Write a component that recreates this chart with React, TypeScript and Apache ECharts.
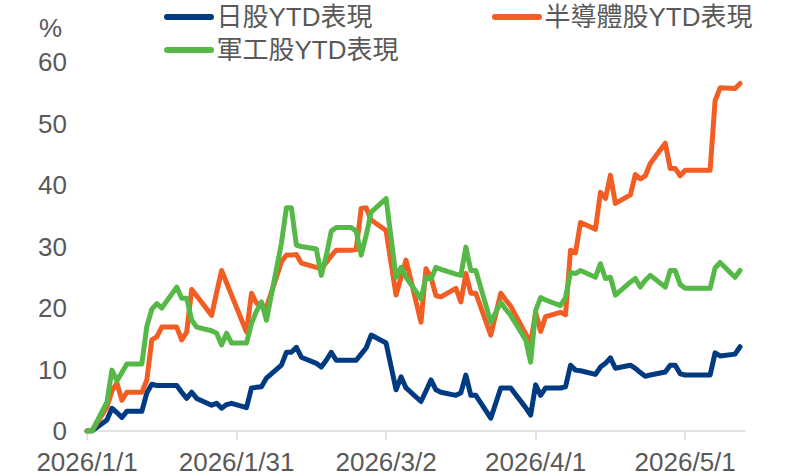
import React, { useEffect, useRef } from "react";
import * as echarts from "echarts";

const dates = [
  "2026/1/1", "2026/1/2", "2026/1/5", "2026/1/6", "2026/1/7", "2026/1/8", "2026/1/9", "2026/1/12", "2026/1/13", "2026/1/14", "2026/1/15", "2026/1/16",
  "2026/1/19", "2026/1/20", "2026/1/21", "2026/1/22", "2026/1/23", "2026/1/26", "2026/1/27", "2026/1/28", "2026/1/29", "2026/1/30",
  "2026/2/2", "2026/2/3", "2026/2/4", "2026/2/5", "2026/2/6", "2026/2/9", "2026/2/10", "2026/2/11", "2026/2/12", "2026/2/13",
  "2026/2/16", "2026/2/17", "2026/2/18", "2026/2/19", "2026/2/20", "2026/2/23", "2026/2/24", "2026/2/25", "2026/2/26", "2026/2/27",
  "2026/3/2", "2026/3/3", "2026/3/4", "2026/3/5", "2026/3/6", "2026/3/9", "2026/3/10", "2026/3/11", "2026/3/12", "2026/3/13",
  "2026/3/16", "2026/3/17", "2026/3/18", "2026/3/19", "2026/3/20", "2026/3/23", "2026/3/24", "2026/3/25", "2026/3/26", "2026/3/27",
  "2026/3/30", "2026/3/31", "2026/4/1", "2026/4/2", "2026/4/3", "2026/4/6", "2026/4/7", "2026/4/8", "2026/4/9", "2026/4/10",
  "2026/4/13", "2026/4/14", "2026/4/15", "2026/4/16", "2026/4/17", "2026/4/20", "2026/4/21", "2026/4/22", "2026/4/23", "2026/4/24",
  "2026/4/27", "2026/4/28", "2026/4/29", "2026/4/30", "2026/5/1", "2026/5/4", "2026/5/5", "2026/5/6", "2026/5/7", "2026/5/8",
  "2026/5/11", "2026/5/12",
];

// 日股YTD表現 (%)
const nikkei = [
  0, 0, 1.8, 3.7, 3.0, 2.2, 3.2, 3.2, 6.2, 7.6, 7.4, 7.4,
  7.4, 6.3, 5.3, 6.3, 5.3, 4.2, 4.5, 3.7, 4.3, 4.5,
  3.8, 7.0, 7.1, 7.2, 8.6, 10.7, 12.8, 12.8, 13.6, 12.0,
  11.0, 10.4, 11.5, 12.8, 11.5, 11.5, 11.5, 12.5, 13.5, 15.6,
  14.3, 10.5, 6.7, 8.8, 7.0, 4.8, 6.5, 8.3, 6.7, 6.3,
  5.8, 6.2, 9.1, 5.8, 5.8, 2.1, 4.5, 7.0, 7.0, 7.0,
  3.8, 2.6, 7.5, 5.8, 7.0, 7.0, 7.2, 10.7, 9.9, 9.8,
  9.2, 10.4, 11.0, 11.9, 10.2, 10.7, 10.2, 9.5, 8.9, 9.1,
  9.6, 10.7, 10.7, 9.3, 9.1, 9.1, 9.1, 9.1, 12.7, 12.2,
  12.5, 13.7,
];

// 半導體股YTD表現 (%)
const semiconductor = [
  0, 0, 3.9, 6.5, 7.8, 5.0, 6.3, 6.3, 8.3, 14.8, 15.3, 16.9,
  16.9, 14.8, 16.1, 23.0, 22.0, 18.8, 22.5, 26.1, 24.1, 22.1,
  16.1, 22.4, 20.8, 20.5, 20.1, 27.5, 28.6, 28.6, 28.7, 27.3,
  26.6, 26.4, 27.4, 28.5, 29.4, 29.4, 29.5, 36.2, 36.3, 34.3,
  32.6, 27.3, 22.1, 25.0, 27.8, 17.7, 26.4, 25.0, 22.0, 21.8,
  23.2, 21.0, 25.6, 22.4, 22.4, 15.6, 19.0, 22.4, 21.3, 20.3,
  15.8, 14.3, 19.3, 16.2, 18.6, 19.3, 18.9, 29.4, 29.0, 33.9,
  32.8, 38.8, 37.8, 41.6, 37.0, 38.4, 41.7, 41.0, 41.5, 43.5,
  46.8, 42.7, 42.7, 41.5, 42.4, 42.4, 42.4, 42.4, 53.7, 55.8,
  55.7, 56.5,
];

// 軍工股YTD表現 (%)
const defense = [
  0, 0, 4.7, 9.9, 8.2, 9.5, 10.9, 10.9, 17.0, 19.8, 20.7, 20.0,
  23.4, 21.6, 21.6, 18.0, 16.9, 16.3, 15.9, 14.0, 15.9, 14.3,
  14.3, 17.5, 19.5, 21.0, 18.0, 30.5, 36.3, 36.3, 30.2, 30.0,
  29.6, 25.3, 28.5, 32.5, 33.1, 33.1, 32.5, 28.6, 31.8, 35.6,
  37.8, 31.4, 25.0, 26.6, 25.0, 21.5, 25.0, 24.7, 26.6, 26.3,
  25.5, 25.3, 29.9, 26.1, 26.1, 17.7, 19.3, 20.9, 19.8, 18.8,
  14.8, 11.2, 19.6, 21.7, 21.3, 20.4, 21.7, 25.8, 25.6, 26.1,
  25.0, 27.2, 24.8, 25.0, 22.1, 24.2, 24.8, 23.4, 24.5, 25.3,
  23.4, 26.1, 26.1, 23.8, 23.2, 23.2, 23.2, 23.2, 26.5, 27.4,
  25.0, 26.1,
];

const xTickDates = ["2026/1/1", "2026/1/31", "2026/3/2", "2026/4/1", "2026/5/1"];
const xEndDate = "2026/5/13";
const seriesNames = ["日股YTD表現", "半導體股YTD表現", "軍工股YTD表現"];
const seriesColors = ["#003A80", "#F15D22", "#56B947"];

const DAY = 86400000;
const BASE = Date.UTC(2026, 0, 1);
const dayOf = (s: string) => {
  const [y, m, d] = s.split("/").map(Number);
  return (Date.UTC(y, m - 1, d) - BASE) / DAY;
};
const fmtDay = (v: number) => {
  const dt = new Date(BASE + Math.round(v) * DAY);
  return `${dt.getUTCFullYear()}/${dt.getUTCMonth() + 1}/${dt.getUTCDate()}`;
};

const FONT = "'Liberation Sans', Arial, 'Noto Sans CJK TC', sans-serif";
const TEXT = "#595959";
const FS = 26;
const pill = "path://M3,0 L47,0 A3,3 0 0 1 47,6 L3,6 A3,3 0 0 1 3,0 Z";

export default function App() {
  const ref = useRef<HTMLDivElement>(null);
  useEffect(() => {
    if (!ref.current) return;
    const chart = echarts.init(ref.current, null, { renderer: "svg" });
    const xs = dates.map(dayOf);
    const allSeries = [nikkei, semiconductor, defense];
    const tickVals = xTickDates.map(dayOf);
    const legendLefts = [164, 492, 164];
    const legendTops = [4, 4, 37];
    chart.setOption({
      animation: false,
      backgroundColor: "#ffffff",
      textStyle: { fontFamily: FONT },
      grid: { left: 87, right: 47, top: 62, bottom: 45, containLabel: false },
      legend: seriesNames.map((n, i) => ({
        data: [n],
        left: legendLefts[i],
        top: legendTops[i],
        icon: pill,
        itemWidth: 51,
        itemHeight: 6,
        itemGap: 5,
        padding: 0,
        textStyle: { fontSize: FS, color: TEXT, fontFamily: FONT, padding: [0, 0, 0, -3] },
      })),
      graphic: [
        {
          type: "text",
          left: 39,
          top: 15,
          style: { text: "%", fontSize: FS, fill: TEXT, fontFamily: FONT },
        },
      ],
      xAxis: {
        type: "value",
        min: 0,
        max: dayOf(xEndDate),
        interval: 30,
        axisLine: { show: true, lineStyle: { color: "#D9D9D9", width: 1.5 } },
        axisTick: {
          show: true,
          customValues: tickVals,
          length: 9,
          lineStyle: { color: "#D9D9D9", width: 1.5 },
        },
        axisLabel: {
          customValues: tickVals,
          formatter: (v: number) => fmtDay(v),
          fontSize: FS,
          color: TEXT,
          fontFamily: FONT,
          margin: 18,
        },
        splitLine: { show: false },
      },
      yAxis: {
        type: "value",
        min: 0,
        max: 60,
        interval: 10,
        axisLine: { show: false },
        axisTick: { show: false },
        splitLine: { show: false },
        axisLabel: { fontSize: FS, color: TEXT, fontFamily: FONT, margin: 20 },
      },
      series: allSeries.map((vals, i) => ({
        name: seriesNames[i],
        type: "line",
        data: vals.map((v, j) => [xs[j], v]),
        showSymbol: false,
        symbol: "none",
        color: seriesColors[i],
        lineStyle: { width: 5, color: seriesColors[i], cap: "round", join: "round" },
        z: 2 + i,
      })),
    });
    return () => chart.dispose();
  }, []);
  return <div ref={ref} style={{ width: 792, height: 476, position: "absolute", left: 0, top: 0 }} />;
}
